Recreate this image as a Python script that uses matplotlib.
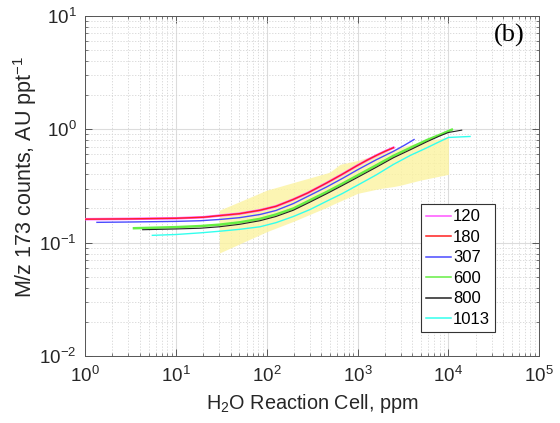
import matplotlib
matplotlib.use("Agg")
import matplotlib.pyplot as plt
import matplotlib.ticker as ticker
import numpy as np

plt.rcParams['font.family'] = ['Liberation Sans', 'DejaVu Sans']
plt.rcParams['mathtext.fontset'] = 'custom'
plt.rcParams['mathtext.rm'] = 'Liberation Sans'
plt.rcParams['mathtext.it'] = 'Liberation Sans:italic'
plt.rcParams['mathtext.bf'] = 'Liberation Sans:bold'

# H2O reaction cell (ppm) vs normalised m/z 173 signal, one curve per pressure
x_120 = [1, 3, 10, 20, 30, 50, 84, 126, 195, 282, 457, 676, 977, 1259, 1622, 1995, 2480]
y_120 = [0.161, 0.162, 0.164, 0.1675, 0.173, 0.180, 0.193, 0.209, 0.240, 0.274, 0.336,
         0.400, 0.475, 0.531, 0.589, 0.637, 0.687]

x_180 = [1, 3, 10, 20, 30, 50, 84, 126, 195, 282, 457, 676, 977, 1259, 1622, 1995, 2480]
y_180 = [0.161, 0.162, 0.164, 0.1675, 0.173, 0.180, 0.193, 0.209, 0.240, 0.274, 0.336,
         0.400, 0.475, 0.531, 0.589, 0.637, 0.687]

x_307 = [1.35, 3, 10, 18.5, 30, 50, 84, 126, 196, 300, 457, 680, 980, 1600, 2480, 3300, 4180]
y_307 = [0.151, 0.152, 0.154, 0.156, 0.160, 0.166, 0.177, 0.192, 0.221, 0.262, 0.31,
         0.368, 0.435, 0.537, 0.638, 0.724, 0.81]

x_600 = [3.45, 10, 18.5, 30, 50, 84, 126, 196, 300, 457, 680, 980, 1600, 2480, 3800, 5760, 8000, 10900]
y_600 = [0.134, 0.137, 0.140, 0.144, 0.151, 0.162, 0.177, 0.2, 0.237, 0.28, 0.331, 0.388,
         0.48, 0.582, 0.684, 0.80, 0.89, 0.99]

x_800 = [4.3, 10, 18.5, 30, 50, 84, 126, 196, 300, 457, 680, 980, 1600, 2480, 3800, 5760, 8000, 10000, 14000]
y_800 = [0.130, 0.132, 0.134, 0.138, 0.145, 0.156, 0.170, 0.193, 0.228, 0.27, 0.319, 0.373,
         0.461, 0.56, 0.658, 0.773, 0.87, 0.935, 0.98]

x_1013 = [5.5, 10, 18.5, 30, 50, 84, 126, 196, 300, 457, 680, 1000, 1600, 2480, 3800, 5760, 7600, 10000, 17300]
y_1013 = [0.116, 0.118, 0.122, 0.126, 0.131, 0.138, 0.150, 0.170, 0.196, 0.232, 0.271, 0.321,
          0.395, 0.489, 0.587, 0.684, 0.762, 0.845, 0.862]

# yellow range band
band_x = [30, 100, 200, 457, 498, 641, 1000, 1766, 2480, 2930, 4870, 10000]
band_lo = [0.081, 0.125, 0.155, 0.205, 0.212, 0.232, 0.272, 0.30, 0.312, 0.32, 0.355, 0.40]
band_hi = [0.193, 0.29, 0.34, 0.41, 0.42, 0.49, 0.53, 0.61, 0.66, 0.69, 0.77, 0.855]

labels = ['120', '180', '307', '600', '800', '1013']
colors = ['#ff55ff', '#ff2020', '#4a4aff', '#66ee44', '#222222', '#33ffee']
widths = [1.8, 1.0, 1.0, 1.8, 0.8, 1.0]

fig = plt.figure(figsize=(5.6, 4.23), dpi=100)
ax = fig.add_axes([0.152, 0.158, 0.811, 0.805])

ax.fill_between(band_x, band_lo, band_hi, color='#fcf3a0', alpha=0.8, lw=0, zorder=1)

series = [(x_120, y_120), (x_180, y_180), (x_307, y_307),
          (x_600, y_600), (x_800, y_800), (x_1013, y_1013)]
for (xs, ys), lab, c, w in zip(series, labels, colors, widths):
    ax.plot(xs, ys, color=c, lw=w, label=lab, zorder=3)

ax.set_xscale('log')
ax.set_yscale('log')
ax.set_xlim(1, 1e5)
ax.set_ylim(1e-2, 1e1)

ax.xaxis.set_major_locator(ticker.LogLocator(base=10, numticks=10))
ax.yaxis.set_major_locator(ticker.LogLocator(base=10, numticks=10))
ax.xaxis.set_minor_locator(ticker.LogLocator(base=10, subs=np.arange(2, 10), numticks=20))
ax.yaxis.set_minor_locator(ticker.LogLocator(base=10, subs=np.arange(2, 10), numticks=20))
ax.xaxis.set_minor_formatter(ticker.NullFormatter())
ax.yaxis.set_minor_formatter(ticker.NullFormatter())

ax.grid(True, which='major', color='#dcdcdc', lw=0.8, ls='-', zorder=0)
ax.grid(True, which='minor', color='#d4d4d4', lw=0.6, ls=(0, (1.5, 2)), zorder=0)
ax.set_axisbelow(True)

ax.tick_params(which='both', direction='in', top=True, right=True,
               color='#444444', labelsize=13.5, labelcolor='#262626')
ax.tick_params(which='major', length=5, width=0.6)
ax.tick_params(which='minor', length=2.5, width=0.5)
ax.tick_params(axis='x', pad=7)
ax.tick_params(axis='y', pad=6)
for s in ax.spines.values():
    s.set_color('#555555')
    s.set_linewidth(0.7)

ax.set_xlabel('H$_2$O Reaction Cell, ppm', fontsize=14.3, color='#262626', labelpad=4)
ax.set_ylabel('M/z 173 counts, AU ppt$^{-1}$', fontsize=15.5, color='#262626')
ax.yaxis.set_label_coords(-0.101, 0.525)

ax.text(0.967, 0.943, '(b)', transform=ax.transAxes, ha='right', va='center',
        fontsize=19, family=['Liberation Serif', 'DejaVu Serif'])

leg = ax.legend(loc='lower right', bbox_to_anchor=(0.903, 0.071), fontsize=12,
                frameon=True, fancybox=False, handlelength=1.5, handletextpad=0.15,
                labelspacing=0.33, borderpad=0.3, borderaxespad=0)
leg.get_frame().set_edgecolor('#333333')
leg.get_frame().set_linewidth(0.8)
leg.get_frame().set_alpha(1)
for h in leg.get_lines():
    h.set_linewidth(1.1)

fig.savefig('out.png', dpi=100)
